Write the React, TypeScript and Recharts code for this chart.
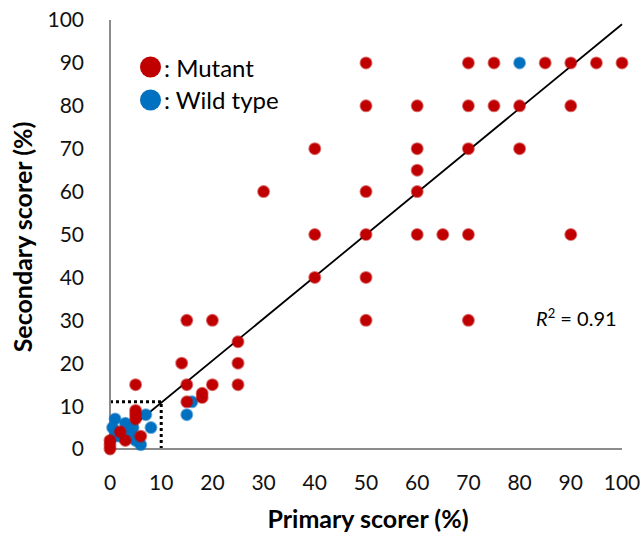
import React from "react";
import {
  ScatterChart,
  Scatter,
  XAxis,
  YAxis,
  ReferenceLine,
} from "recharts";

// values (percent)
const mutantX = [
  50, 70, 75, 85, 90, 95, 100,
  50, 60, 70, 75, 80, 90,
  40, 60, 70, 80,
  60,
  30, 50, 60,
  40, 50, 60, 65, 70, 90,
  40, 50,
  15, 20, 50, 70,
  25,
  14, 25,
  5, 15, 20, 25,
  18, 18, 15,
  5, 5, 5, 2, 3, 6, 0, 0, 0,
];
const mutantY = [
  90, 90, 90, 90, 90, 90, 90,
  80, 80, 80, 80, 80, 80,
  70, 70, 70, 70,
  65,
  60, 60, 60,
  50, 50, 50, 50, 50, 50,
  40, 40,
  30, 30, 30, 30,
  25,
  20, 20,
  15, 15, 15, 15,
  13, 12, 11,
  9, 8, 7, 4, 2, 3, 0, 1, 2,
];
const wildX = [80, 16, 15, 1, 3, 7, 8, 0.5, 4, 5, 6, 2, 4.5, 1];
const wildY = [90, 11, 8, 7, 6, 8, 5, 5, 4, 2, 1, 3, 5, 3];

const ticks = [0, 10, 20, 30, 40, 50, 60, 70, 80, 90, 100];
const trendX = [0, 100];
const trendY = [1, 99];
const boxX = 10;
const boxY = 11;
const rSquared = "0.91";

const RED = "#C00000";
const BLUE = "#0070C0";
const FONT = "Lato, 'Open Sans', sans-serif";

const mutant = mutantX.map((x, i) => ({ x, y: mutantY[i] }));
const wild = wildX.map((x, i) => ({ x, y: wildY[i] }));

const dot = (color: string) => (props: any) => (
  <circle
    cx={props.cx}
    cy={props.cy}
    r={5.5}
    fill={color}
    stroke={color}
    strokeOpacity={0.55}
    strokeWidth={2}
  />
);

export default function App() {
  return (
    <div style={{ position: "absolute", left: 0, top: 0, width: 640, height: 535, background: "#fff" }}>
      <ScatterChart width={640} height={535} margin={{ top: 20, right: 18, bottom: 0, left: 0 }}>
        <XAxis
          type="number"
          dataKey="x"
          domain={[0, 100]}
          ticks={ticks}
          interval={0}
          height={86}
          tickLine={false}
          tickMargin={20}
          axisLine={{ stroke: "#8c8c8c", strokeWidth: 2 }}
          tick={{ fontSize: 21, fill: "#111", fontFamily: FONT }}
        />
        <YAxis
          type="number"
          dataKey="y"
          domain={[0, 100]}
          ticks={ticks}
          interval={0}
          width={110}
          tickLine={false}
          tickMargin={20}
          axisLine={{ stroke: "#8c8c8c", strokeWidth: 2 }}
          tick={{ fontSize: 21, fill: "#111", fontFamily: FONT }}
        />
        <ReferenceLine
          segment={[{ x: 0, y: boxY }, { x: boxX, y: boxY }]}
          stroke="#000"
          strokeWidth={3}
          strokeDasharray="3 3"
        />
        <ReferenceLine
          segment={[{ x: boxX, y: 0 }, { x: boxX, y: boxY }]}
          stroke="#000"
          strokeWidth={3}
          strokeDasharray="3 3"
        />
        <Scatter data={wild} isAnimationActive={false} shape={dot(BLUE)} />
        <Scatter data={mutant} isAnimationActive={false} shape={dot(RED)} />
        <ReferenceLine
          segment={[{ x: trendX[0], y: trendY[0] }, { x: trendX[1], y: trendY[1] }]}
          stroke="#000"
          strokeWidth={1.8}
        />

        {/* legend */}
        <circle cx={150.5} cy={67} r={10.5} fill={RED} />
        <text x={164} y={77} fontSize={24} fontFamily={FONT} fill="#000">: Mutant</text>
        <circle cx={150.5} cy={100} r={10.5} fill={BLUE} />
        <text x={164} y={109} fontSize={24} fontFamily={FONT} fill="#000">: Wild type</text>

        {/* R squared */}
        <text x={536} y={326} fontSize={20} fontFamily={FONT} fill="#000">
          <tspan fontStyle="italic">R</tspan>
          <tspan dy={-8} fontSize={13}>2</tspan>
          <tspan dy={8}> = {rSquared}</tspan>
        </text>

        {/* axis titles */}
        <text x={368} y={528} textAnchor="middle" fontSize={25} fontWeight="bold" fontFamily={FONT} fill="#000">
          Primary scorer (%)
        </text>
        <text
          x={0}
          y={0}
          transform="translate(32, 237) rotate(-90)"
          textAnchor="middle"
          fontSize={25}
          fontWeight="bold"
          fontFamily={FONT}
          fill="#000"
        >
          Secondary scorer (%)
        </text>
      </ScatterChart>
    </div>
  );
}
